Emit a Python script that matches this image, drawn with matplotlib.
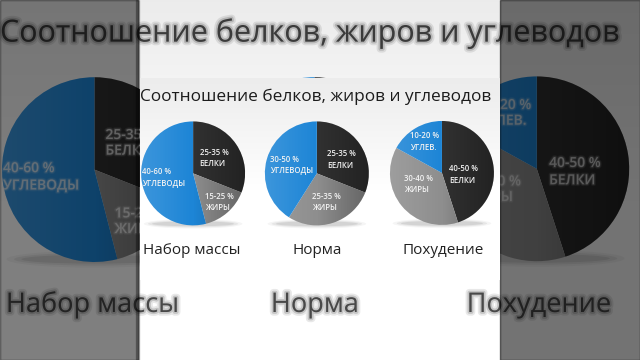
import numpy as np
import matplotlib
matplotlib.use("Agg")
import matplotlib.pyplot as plt
import matplotlib.patheffects as pe
from matplotlib.patches import Circle, Ellipse, Rectangle
from matplotlib.transforms import Bbox, IdentityTransform

# ---------------- data ----------------
title = "Соотношение белков, жиров и углеводов"
categories = ["Набор массы", "Норма", "Похудение"]
proteins = [31, 31, 45]
fats = [15, 28, 38]
carbs = [54, 41, 17]
protein_labels = ["25-35 %\nБЕЛКИ", "25-35 %\nБЕЛКИ", "40-50 %\nБЕЛКИ"]
fat_labels = ["15-25 %\nЖИРЫ", "25-35 %\nЖИРЫ", "30-40 %\nЖИРЫ"]
carb_labels = ["40-60 %\nУГЛЕВОДЫ", "30-50 %\nУГЛЕВОДЫ", "10-20 %\nУГЛЕВ."]

# ---------------- style ----------------
FONT = ["Open Sans", "DejaVu Sans"]
C_BLUE = "#1d85d6"
C_DARK = "#313131"
C_GRAY = "#8e8e8e"
centers = [(2.36, 4.76), (7.86, 4.76), (13.42, 4.78)]
R = 2.31
prot_off = [(0.93, 0.67), (1.09, 0.62), (0.96, -0.07)]
fat_off = [(1.16, -1.29), (0.42, -1.29), (-1.04, -0.51)]
carb_off = [(-1.33, -0.18), (-1.13, 0.36), (-0.78, 1.40)]
cat_x = [2.31, 7.87, 13.47]

W, H = 640, 360
PANEL = (140, 500, H - 281, H - 78)   # x0, x1, y0, y1 in display pixels
fig = plt.figure(figsize=(6.4, 3.6), dpi=100)
renderer = fig.canvas.get_renderer()


def blur_fx(color, s):
    return [pe.Stroke(linewidth=3.0 * s, foreground=color, alpha=0.10),
            pe.Stroke(linewidth=1.5 * s, foreground=color, alpha=0.18),
            pe.Normal()]


def width_px(ax, s_, props):
    if not s_:
        return 0.0
    tt = ax.text(0, 0, s_, transform=IdentityTransform(), **props)
    w = tt.get_window_extent(renderer=renderer).width
    tt.remove()
    return w


def finish_blur(ax, t, color, s, alpha):
    bb = t.get_window_extent(renderer=renderer)
    inside_y = bb.y0 >= PANEL[2] and bb.y1 <= PANEL[3]
    if inside_y and bb.x0 >= PANEL[0] and bb.x1 <= PANEL[1]:
        t.remove()          # fully covered by the sharp panel
        return
    right = inside_y and bb.x0 < PANEL[1] < bb.x1
    left = inside_y and bb.x0 < PANEL[0] < bb.x1
    if not (right or left):
        t.set_path_effects(blur_fx(color, s))
        t.set_alpha(alpha)
        return
    # partly covered: keep only the part that shows beside the panel
    props = dict(fontsize=t.get_fontsize(), family=FONT,
                 fontweight=t.get_fontweight(), color=color,
                 zorder=t.get_zorder(), ha="left", va="center")
    lines = t.get_text().split("\n")
    n = len(lines)
    t.remove()
    x0 = bb.x0
    for j, line in enumerate(lines):
        yc = bb.y1 - (j + 0.5) * bb.height / n
        if right:
            k = 0
            while k < len(line) and x0 + width_px(ax, line[:k + 1], props) <= PANEL[1]:
                k += 1
            piece = line[k:]
            px = x0 + width_px(ax, line[:k], props)
            clip = Bbox([[PANEL[1], 0], [W, H]])
        else:
            k = len(line)
            while k > 0 and x0 + width_px(ax, line[:k - 1], props) >= PANEL[0]:
                k -= 1
            piece = line[:k]
            px = x0
            clip = Bbox([[0, 0], [PANEL[0], H]])
        if not piece.strip():
            continue
        tp = ax.text(px, yc, piece, transform=IdentityTransform(), **props)
        tp.set_clip_box(clip)
        tp.set_clip_on(True)
        tp.set_path_effects(blur_fx(color, s))
        tp.set_alpha(alpha)


def draw_chart(ax, s, blur):
    ax.set_xlim(0, 16)
    ax.set_ylim(0, 9)
    grad = np.linspace(0.0, 1.0, 200).reshape(-1, 1)
    grad = np.clip(grad * 1.8, 0, 1)
    bg = 0.925 + 0.075 * grad
    ax.imshow(np.dstack([bg, bg, bg]), extent=(0, 16, 0, 9), aspect="auto",
              origin="upper", zorder=0)

    t = ax.text(0.0, 7.96, title, ha="left", va="baseline", fontsize=12 * s,
                family=FONT, color="#1c1c1c", zorder=5)
    wpx = t.get_window_extent(renderer=renderer).width
    t.set_fontsize(12 * s * (348 * s) / wpx)
    if blur:
        finish_blur(ax, t, "#1c1c1c", s, 0.72)

    for i in range(3):
        cx, cy = centers[i]
        for k, a in enumerate([0.04, 0.06, 0.08]):
            ax.add_patch(Ellipse((cx, cy - R * 0.97), 2 * R * (0.95 - 0.08 * k),
                                 0.42 - 0.1 * k, color="#000000", alpha=a,
                                 lw=0, zorder=1))
        wedges, _ = ax.pie([proteins[i], fats[i], carbs[i]],
                           colors=[C_DARK, C_GRAY, C_BLUE], startangle=90,
                           counterclock=False, center=(cx, cy), radius=R,
                           frame=True, wedgeprops=dict(linewidth=0))
        for w in wedges:
            w.set_zorder(2)
        xs = np.linspace(0, 1, 200)
        light = np.zeros((1, 200, 4))
        light[0, :, :3] = np.where(xs < 0.5, 1.0, 0.0)[:, None]
        light[0, :, 3] = np.where(xs < 0.5, 0.14 * (0.5 - xs) / 0.5,
                                  0.30 * (xs - 0.5) / 0.5)
        im = ax.imshow(light, extent=(cx - R, cx + R, cy - R, cy + R),
                       aspect="auto", zorder=3)
        im.set_clip_path(Circle((cx, cy), R, transform=ax.transData))

        for lab, off in ((protein_labels[i], prot_off[i]),
                         (fat_labels[i], fat_off[i]),
                         (carb_labels[i], carb_off[i])):
            tx = ax.text(cx + off[0], cy + off[1], lab, ha="center", va="center",
                         multialignment="left", fontsize=5.6 * s,
                         fontweight="semibold", family=FONT, color="#f2f2f2",
                         linespacing=1.3, zorder=6)
            if blur:
                finish_blur(ax, tx, "#f2f2f2", s * 0.5, 0.6)

        c = ax.text(cat_x[i], 1.2, categories[i], ha="center", va="baseline",
                    fontsize=11 * s, family=FONT, color="#222222", zorder=5)
        if blur:
            finish_blur(ax, c, "#222222", s, 0.68)

    ax.set_xlim(0, 16)
    ax.set_ylim(0, 9)
    ax.set_aspect("auto")
    ax.axis("off")


# big blurred background copy (whole frame)
ax_big = fig.add_axes([0, 0, 1, 1])
draw_chart(ax_big, W / 360.0, True)

# darken side strips
fig.patches.append(Rectangle((0, 0), 138 / W, 1, transform=fig.transFigure,
                             color="black", alpha=0.5, zorder=10))
fig.patches.append(Rectangle((500 / W, 0), 1 - 500 / W, 1, transform=fig.transFigure,
                             color="black", alpha=0.55, zorder=10))
fig.patches.append(Rectangle((136 / W, 0), 3 / W, 1, transform=fig.transFigure,
                             color="black", alpha=0.25, zorder=10))

# sharp chart in the middle
ax_small = fig.add_axes([140 / W, (H - 280.5) / H, 360 / W, 202.5 / H])
ax_small.set_zorder(20)
draw_chart(ax_small, 1.0, False)

fig.savefig("out.png", dpi=100)
